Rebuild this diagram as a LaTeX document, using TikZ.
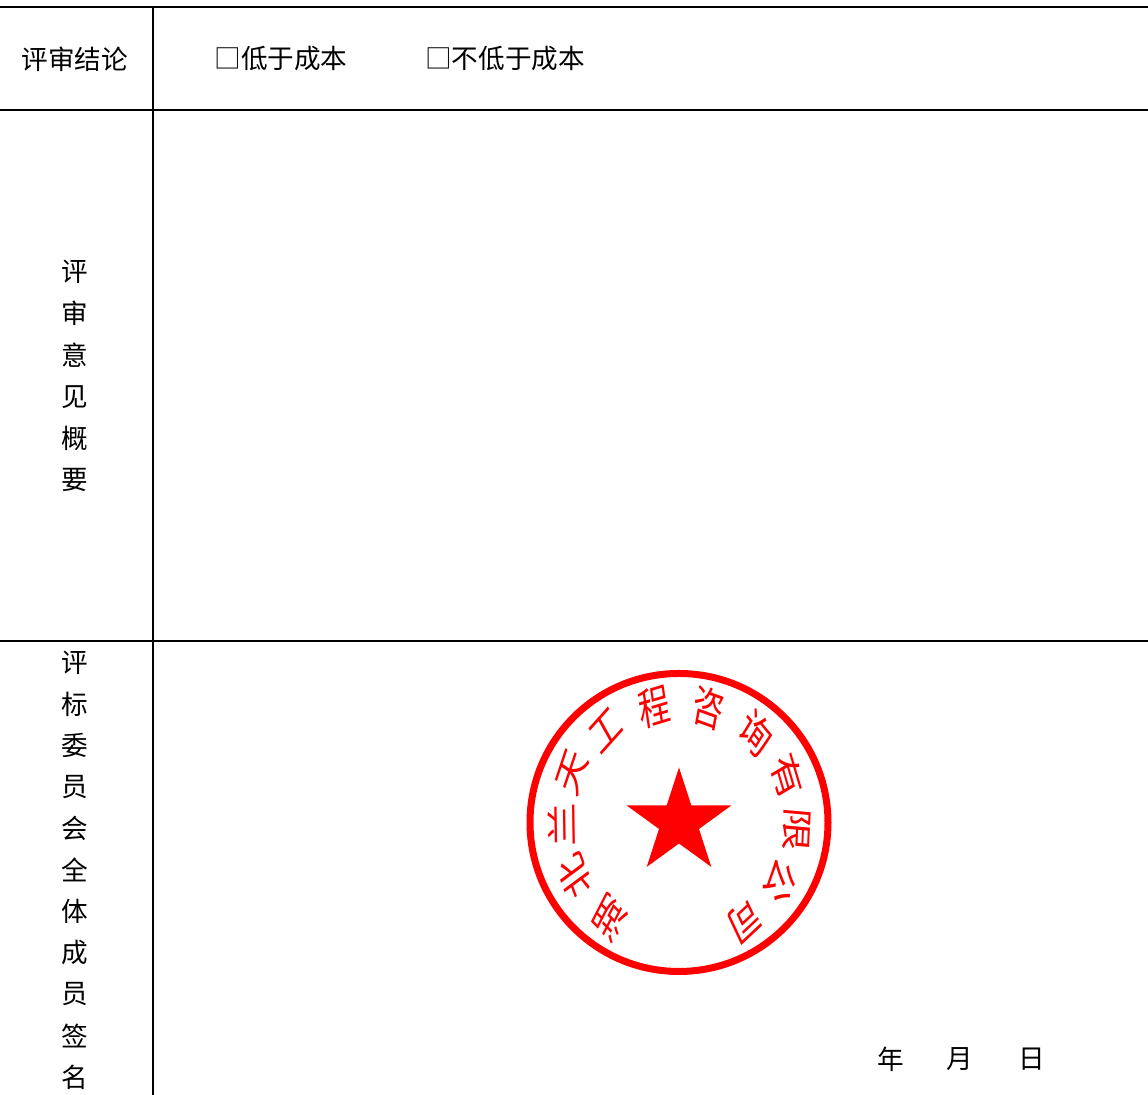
\documentclass[tikz,border=0pt]{standalone}
\usepackage{fontspec}
\setmainfont{Noto Sans CJK SC}
\usetikzlibrary{shapes.geometric}
\definecolor{sealred}{RGB}{255,0,0}
\begin{document}
\begin{tikzpicture}[x=0.5pt,y=0.5pt,
  rule/.style={line width=0.75pt},
  cell/.style={inner sep=0pt, font=\fontsize{13.3pt}{13.3pt}\selectfont},
  sealchar/.style={inner sep=0pt, text=sealred, xscale=0.78, yscale=1.1, font=\fontsize{20pt}{20pt}\selectfont}]
\useasboundingbox (0,0) rectangle (1148,1095);
% table rules
\coordinate (tl) at (0,1088);
\coordinate (tr) at (1148,1088);
\coordinate (ml) at (0,985);
\coordinate (mr) at (1148,985);
\coordinate (bl) at (0,454);
\coordinate (br) at (1148,454);
\coordinate (vt) at (153,1088);
\coordinate (vb) at (153,0);
\draw[rule] (tl) -- (tr);
\draw[rule] (ml) -- (mr);
\draw[rule] (bl) -- (br);
\draw[rule] (vt) -- (vb);
% first row
\node[cell] (conclusion) at (75,1036){评审结论};
\node[cell] (below) at (281,1036){□低于成本};
\node[cell] (notbelow) at (505,1036){□不低于成本};
% left column texts
\foreach \c [count=\i from 0] in {评,审,意,见,概,要}
  \node[cell] (opinion\i) at (75,823-41.6*\i){\c};
\foreach \c [count=\i from 0] in {评,标,委,员,会,全,体,成,员,签,名}
  \node[cell] (sign\i) at (75,432-41.4*\i){\c};
% date
\node[cell] (year) at (891,36){年};
\node[cell] (month) at (960,36){月};
\node[cell] (day) at (1032,36){日};
% seal
\coordinate (seal) at (679,272.5);
\draw[sealred, line width=3.5pt] (seal) circle (149);
\node[star, star points=5, star point ratio=2.618, minimum size=55pt,
  inner sep=0pt, fill=sealred] (sealstar) at (seal){};
\foreach \c [count=\i from 0] in {湖,北,兰,天,工,程,咨,询,有,限,公,司}
  \node[sealchar, rotate=144-26.4*\i] (sealtext\i) at ([shift={(234-26.4*\i:118)}]seal){\c};
\end{tikzpicture}
\end{document}
